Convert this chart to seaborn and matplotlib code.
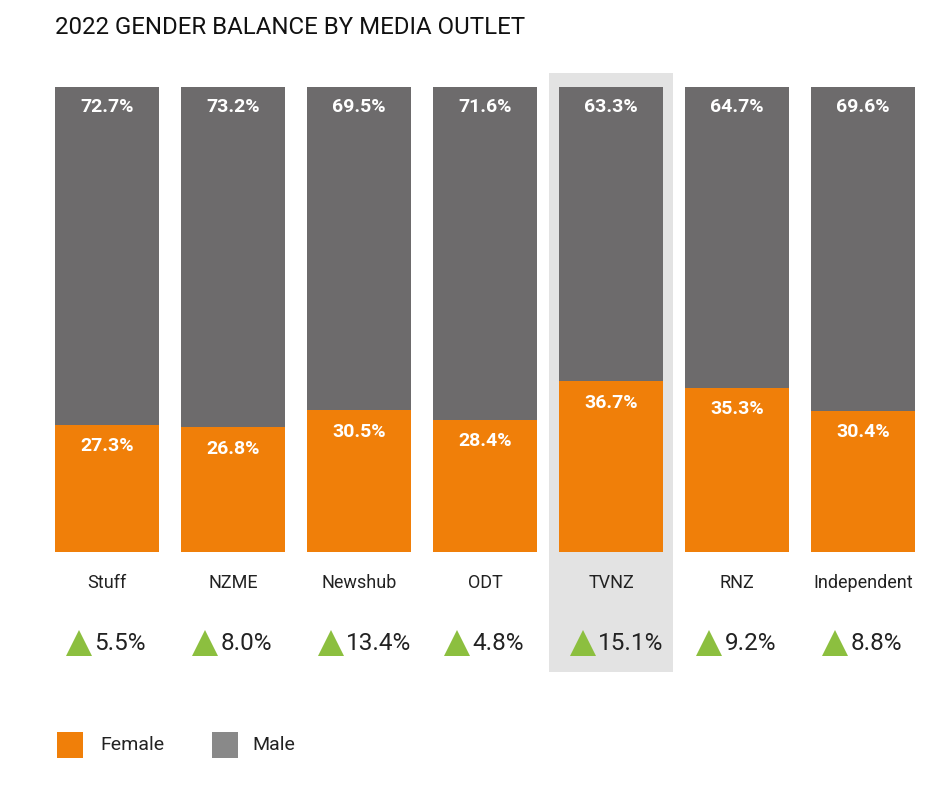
import matplotlib
matplotlib.use("Agg")
import matplotlib.pyplot as plt
import seaborn as sns
from matplotlib.patches import Rectangle

# data
outlets = ["Stuff", "NZME", "Newshub", "ODT", "TVNZ", "RNZ", "Independent"]
female = [27.3, 26.8, 30.5, 28.4, 36.7, 35.3, 30.4]
male = [72.7, 73.2, 69.5, 71.6, 63.3, 64.7, 69.6]
change = [5.5, 8.0, 13.4, 4.8, 15.1, 9.2, 8.8]
highlight = "TVNZ"

ORANGE = "#F07F09"
GREY = "#6D6B6C"
LEGEND_GREY = "#898989"
GREEN = "#8CBF3F"
SHADE = "#E3E3E3"

sns.set_theme(style="white")
plt.rcParams["font.family"] = ["Roboto", "DejaVu Sans"]

fig = plt.figure(figsize=(9.46, 7.90), dpi=100)
ax = fig.add_axes([44 / 946, (790 - 552) / 790, 882 / 946, 465 / 790])

total = [f + m for f, m in zip(female, male)]

# shaded column behind the highlighted outlet
hi = outlets.index(highlight)
ax.add_patch(Rectangle((hi - 0.496, -25.8), 0.992, 128.8, facecolor=SHADE,
                       edgecolor="none", clip_on=False, zorder=0))

sns.barplot(x=outlets, y=total, color=GREY, width=0.825, saturation=1,
            linewidth=0, ax=ax, zorder=2)
sns.barplot(x=outlets, y=female, color=ORANGE, width=0.825, saturation=1,
            linewidth=0, ax=ax, zorder=3)

ax.set_xlim(-0.5, len(outlets) - 0.5)
ax.set_ylim(0, 100)
ax.axis("off")

for i, name in enumerate(outlets):
    ax.text(i, total[i] - 4.4, f"{male[i]:.1f}%", ha="center", va="center",
            color="white", fontsize=14, fontweight="bold", zorder=5)
    ax.text(i, female[i] - 4.6, f"{female[i]:.1f}%", ha="center", va="center",
            color="white", fontsize=14, fontweight="bold", zorder=5)
    ax.text(i, -6.6, name, ha="center", va="center", color="#222222",
            fontsize=13, clip_on=False)
    ax.plot(i - 0.225, -19.6, marker="^", markersize=19, color=GREEN,
            markeredgewidth=0, clip_on=False, zorder=5)
    ax.text(i - 0.1, -19.6, f"{change[i]:.1f}%", ha="left", va="center",
            color="#222222", fontsize=17.5, clip_on=False)

fig.text(55 / 946, 1 - 28 / 790, "2022 GENDER BALANCE BY MEDIA OUTLET",
         ha="left", va="center", fontsize=17.3, color="#111111")

# legend
for x0, col, lab, tx in [(57, ORANGE, "Female", 100), (212, LEGEND_GREY, "Male", 252)]:
    fig.patches.append(Rectangle((x0 / 946, (790 - 758) / 790), 26 / 946, 26 / 790,
                                 facecolor=col, edgecolor="none",
                                 transform=fig.transFigure, figure=fig))
    fig.text(tx / 946, 1 - 745 / 790, lab, ha="left", va="center",
             fontsize=14, color="#222222")

fig.savefig("out.png", dpi=100, facecolor="white")
